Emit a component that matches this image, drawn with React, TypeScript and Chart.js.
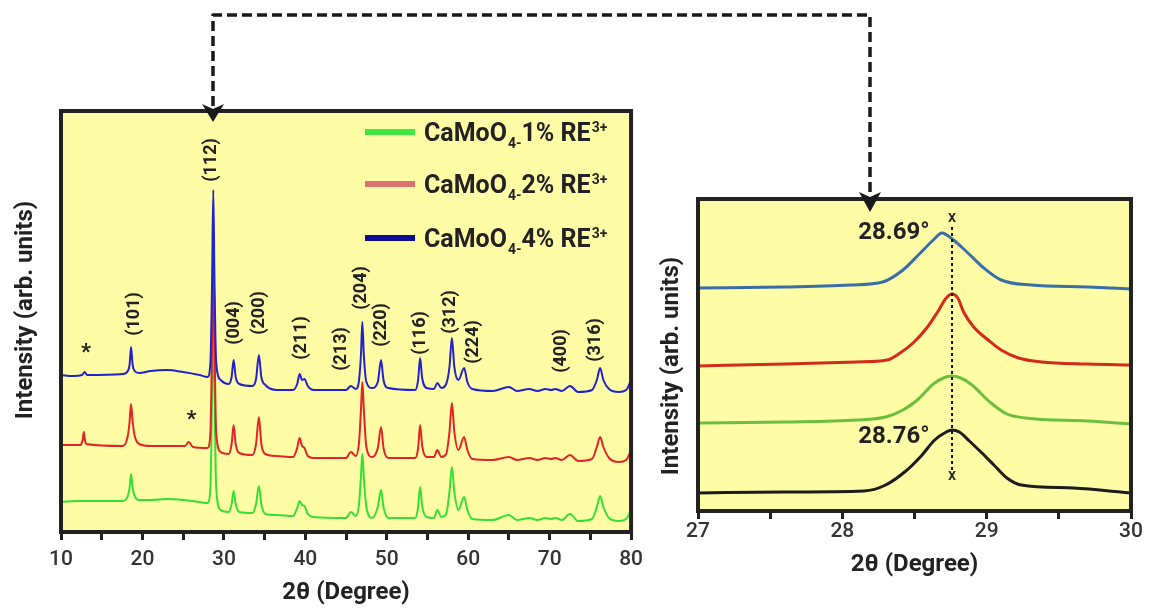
import React, { useEffect, useRef } from "react";
import { Chart, registerables } from "chart.js";

Chart.register(...registerables);

type P = [number, number];

// ---------- Left panel: full XRD patterns (2θ °, intensity in arb. units incl. vertical offset) ----------
const xrdBlue4: P[] = [
  [10, 157], [11.5, 156], [12.6, 157], [12.9, 160], [13.2, 157], [17.6, 158], [18.2, 161], [18.42, 167], [18.6, 185],
  [18.8, 167], [19.05, 161], [19.6, 159], [21, 161], [23, 162], [25, 160], [27, 157], [28.0, 155], [28.35, 170],
  [28.55, 250], [28.7, 342], [28.85, 250], [29.05, 170], [29.6, 152], [30.6, 148], [30.95, 155], [31.2, 172],
  [31.45, 155], [31.9, 148], [33.5, 146], [33.95, 153], [34.3, 177], [34.6, 155], [35.1, 147], [36.5, 142],
  [38.5, 142], [39.0, 148], [39.3, 158], [39.6, 152], [39.9, 153], [40.3, 146], [41, 142], [45, 142], [45.6, 146],
  [46.2, 143], [46.6, 152], [46.85, 180], [47.0, 210], [47.2, 175], [47.5, 150], [48.2, 144], [48.9, 150],
  [49.3, 172], [49.6, 152], [50.2, 144], [53.5, 142], [53.85, 152], [54.1, 174], [54.35, 154], [54.9, 144],
  [55.8, 143], [56.2, 149], [56.7, 144], [57.3, 148], [57.7, 165], [58.0, 194], [58.3, 165], [58.8, 152],
  [59.5, 164], [59.9, 150], [60.5, 143], [63, 141], [65, 145], [66, 141], [67.5, 143], [68.5, 141], [69.5, 143],
  [70.2, 142], [70.7, 143], [71.5, 141], [72.5, 146], [73.5, 140], [75.2, 142], [75.8, 152], [76.2, 164],
  [76.6, 152], [77.3, 143], [78.5, 140], [79.4, 142], [80, 152],
];

const xrdRed2: P[] = [
  [10, 87], [12.4, 87], [12.5, 88], [12.68, 93], [12.8, 100], [12.92, 93], [13.1, 88], [17.6, 86], [18.2, 96],
  [18.42, 110], [18.6, 128], [18.8, 110], [19.05, 96], [19.6, 88], [21, 86], [23, 86], [25.2, 86], [25.7, 90],
  [26.2, 85], [28.0, 84], [28.35, 100], [28.55, 190], [28.7, 274], [28.85, 190], [29.05, 100], [29.6, 80],
  [30.6, 78], [30.95, 88], [31.2, 107], [31.45, 88], [31.9, 79], [33.5, 77], [33.95, 88], [34.3, 115], [34.6, 88],
  [35.1, 78], [36.5, 76], [38.5, 75], [39.0, 84], [39.3, 94], [39.6, 86], [39.9, 84], [40.3, 76], [41, 74],
  [45, 74], [45.6, 80], [46.2, 76], [46.6, 90], [46.85, 125], [47.0, 150], [47.2, 120], [47.5, 85], [48.2, 75],
  [48.9, 84], [49.3, 105], [49.6, 84], [50.2, 74], [53.5, 74], [53.85, 84], [54.1, 107], [54.35, 86], [54.9, 75],
  [55.8, 75], [56.2, 82], [56.7, 75], [57.3, 78], [57.7, 100], [58.0, 129], [58.3, 100], [58.8, 82], [59.5, 95],
  [59.9, 82], [60.5, 73], [63, 72], [65, 75], [66, 72], [67.5, 74], [68.5, 72], [69.5, 74], [70.2, 73], [70.7, 74],
  [71.5, 72], [72.5, 77], [73.5, 71], [75.2, 73], [75.8, 85], [76.2, 95], [76.6, 85], [77.3, 74], [78.5, 70],
  [79.4, 72], [80, 82],
];

const xrdGreen1: P[] = [
  [10, 30], [12, 31], [17.6, 31], [18.2, 36], [18.42, 44], [18.6, 58], [18.8, 44], [19.05, 36], [19.6, 32],
  [21, 32], [23, 33], [25, 32], [27, 30], [28.0, 29], [28.35, 45], [28.55, 140], [28.7, 209], [28.85, 140],
  [29.05, 45], [29.6, 22], [30.6, 20], [30.95, 28], [31.2, 41], [31.45, 28], [31.9, 20], [33.5, 19], [33.95, 28],
  [34.3, 46], [34.6, 28], [35.1, 18], [36.5, 17], [38.5, 16], [39.0, 24], [39.3, 31], [39.6, 27], [39.9, 26],
  [40.3, 18], [41, 15], [45, 14], [45.6, 20], [46.2, 16], [46.6, 28], [46.85, 58], [47.0, 78], [47.2, 52],
  [47.5, 25], [48.2, 14], [48.9, 25], [49.3, 42], [49.6, 25], [50.2, 14], [53.5, 14], [53.85, 25], [54.1, 45],
  [54.35, 26], [54.9, 15], [55.8, 14], [56.2, 22], [56.7, 15], [57.3, 18], [57.7, 40], [58.0, 65], [58.3, 40],
  [58.8, 22], [59.5, 35], [59.9, 22], [60.5, 13], [63, 12], [65, 17], [66, 12], [67.5, 14], [68.5, 12], [69.5, 14],
  [70.2, 13], [70.7, 14], [71.5, 12], [72.5, 18], [73.5, 11], [75.2, 13], [75.8, 25], [76.2, 36], [76.6, 25],
  [77.3, 14], [78.5, 11], [79.4, 13], [80, 22],
];

const leftYMax = 421;
const leftTickLabels = [10, 20, 30, 40, 50, 60, 70, 80];

// Miller-index labels (position in data units: 2θ, intensity)
const hklText = ["(101)", "(112)", "(004)", "(200)", "(211)", "(213)", "(204)", "(220)", "(116)", "(312)", "(224)", "(400)", "(316)"];
const hklX = [19.06, 28.5, 31.3, 34.36, 39.5, 44.5, 46.96, 49.4, 54.2, 57.86, 60.67, 71.4, 75.6];
const hklY = [218, 372, 209, 219, 194, 183, 244, 207, 199, 220, 190, 181, 192];
const starX = [13.06, 26.03];
const starY = [184, 117];

// Legend
const legendPct = ["1%", "2%", "4%"];
const legendColors = ["#3ee83e", "#df7070", "#0c0c98"];

// ---------- Right panel: (112) zoom ----------
const zoomBlue: P[] = [
  [27, 223], [27.6, 224], [28.06, 226], [28.28, 229], [28.42, 241], [28.54, 258], [28.63, 271], [28.69, 278],
  [28.77, 271], [28.87, 258], [28.98, 243], [29.1, 231], [29.31, 226], [29.7, 224], [30, 222],
];
const zoomRed: P[] = [
  [27, 145], [27.6, 147], [28.1, 149], [28.31, 151], [28.4, 158], [28.49, 168], [28.59, 184], [28.66, 199],
  [28.72, 213], [28.76, 217], [28.8, 213], [28.84, 199], [28.91, 184], [29.01, 171], [29.1, 161], [29.22, 153],
  [29.38, 149], [29.7, 147], [30, 146],
];
const zoomGreen: P[] = [
  [27, 88], [27.6, 89], [28.1, 91], [28.3, 94], [28.42, 101], [28.52, 111], [28.63, 127], [28.7, 133], [28.76, 135],
  [28.82, 133], [28.89, 127], [29.03, 108], [29.14, 97], [29.27, 93], [29.7, 90], [30, 87],
];
const zoomBlack: P[] = [
  [27, 18], [27.6, 19], [28.15, 20], [28.3, 26], [28.44, 40], [28.54, 54], [28.64, 71], [28.72, 79], [28.76, 81],
  [28.81, 79], [28.88, 70], [28.96, 59], [29.05, 46], [29.14, 33], [29.24, 26], [29.6, 23], [30, 18],
];
const rightYMax = 312;
const rightTickLabels = [27, 28, 29, 30];
const peakRef = 28.76;
const peakLabels = ["28.69°", "28.76°"];
const peakLabelX = [28.11, 28.11];
const peakLabelY = [278, 74];
const refLineY = [41, 287];
const refMarkY = [35, 293];

const YELLOW = "#fffca6";
const FRAME = "#222222";
const TEXT = "#222222";
const FONT = "Roboto, 'Noto Sans', sans-serif";

const toXY = (d: P[]) => d.map(([x, y]) => ({ x, y }));

function drawFrameAndTitles(chart: any, yTitleX: number, yTitleY: number, xTitleY: number) {
  const { ctx, chartArea: a } = chart;
  ctx.save();
  ctx.strokeStyle = FRAME;
  ctx.lineWidth = 4;
  ctx.strokeRect(a.left, a.top, a.right - a.left, a.bottom - a.top);
  ctx.fillStyle = TEXT;
  ctx.font = `bold 24px ${FONT}`;
  ctx.textAlign = "center";
  ctx.textBaseline = "middle";
  ctx.fillText("2θ (Degree)", (a.left + a.right) / 2, xTitleY);
  ctx.translate(yTitleX, yTitleY);
  ctx.rotate(-Math.PI / 2);
  ctx.fillText("Intensity (arb. units)", 0, 0);
  ctx.restore();
}

const yellowBg = {
  id: "yellowBg",
  beforeDatasetsDraw(chart: any) {
    const { ctx, chartArea: a } = chart;
    ctx.save();
    ctx.fillStyle = YELLOW;
    ctx.fillRect(a.left, a.top, a.right - a.left, a.bottom - a.top);
    ctx.restore();
  },
};

const leftDeco = {
  id: "leftDeco",
  afterDraw(chart: any) {
    const { ctx, chartArea: a, scales } = chart;
    const x = scales.x;
    const y = scales.y;
    drawFrameAndTitles(chart, 26, 310, 593);
    ctx.save();
    ctx.fillStyle = TEXT;
    ctx.textAlign = "center";
    ctx.textBaseline = "middle";
    ctx.font = `bold 18px ${FONT}`;
    hklText.forEach((t, i) => {
      ctx.save();
      ctx.translate(x.getPixelForValue(hklX[i]), y.getPixelForValue(hklY[i]));
      ctx.rotate(-Math.PI / 2);
      ctx.fillText(t, 0, 0);
      ctx.restore();
    });
    ctx.font = `bold 22px ${FONT}`;
    starX.forEach((sx, i) => {
      ctx.fillText("*", x.getPixelForValue(sx), y.getPixelForValue(starY[i]) + 5);
    });
    // legend
    const rows = [132, 184, 238];
    legendPct.forEach((pct, i) => {
      const ry = rows[i];
      ctx.strokeStyle = legendColors[i];
      ctx.lineWidth = 6;
      ctx.beginPath();
      ctx.moveTo(a.left + 304, ry);
      ctx.lineTo(a.left + 354, ry);
      ctx.stroke();
      ctx.textAlign = "left";
      ctx.textBaseline = "alphabetic";
      ctx.fillStyle = TEXT;
      let cx = a.left + 363;
      const base = ry + 9;
      ctx.font = `bold 25px ${FONT}`;
      ctx.fillText("CaMoO", cx, base);
      cx += ctx.measureText("CaMoO").width + 1;
      ctx.font = `bold 14px ${FONT}`;
      ctx.fillText("4-", cx, base + 7);
      cx += ctx.measureText("4-").width;
      ctx.font = `bold 25px ${FONT}`;
      const t = `${pct} RE`;
      ctx.fillText(t, cx, base);
      cx += ctx.measureText(t).width + 1;
      ctx.font = `bold 14px ${FONT}`;
      ctx.fillText("3+", cx, base - 9);
    });
    ctx.restore();
  },
};

const rightDeco = {
  id: "rightDeco",
  afterDraw(chart: any) {
    const { ctx, scales } = chart;
    const x = scales.x;
    const y = scales.y;
    drawFrameAndTitles(chart, 22, 366, 565);
    ctx.save();
    const px = x.getPixelForValue(peakRef);
    ctx.strokeStyle = "#111";
    ctx.lineWidth = 2;
    ctx.setLineDash([3, 3]);
    ctx.beginPath();
    ctx.moveTo(px, y.getPixelForValue(refLineY[0]));
    ctx.lineTo(px, y.getPixelForValue(refLineY[1]));
    ctx.stroke();
    ctx.setLineDash([]);
    ctx.fillStyle = TEXT;
    ctx.textAlign = "center";
    ctx.textBaseline = "middle";
    ctx.font = `500 16px ${FONT}`;
    refMarkY.forEach((my) => ctx.fillText("x", px, y.getPixelForValue(my)));
    ctx.font = `bold 24px ${FONT}`;
    ctx.textAlign = "left";
    peakLabels.forEach((t, i) => {
      ctx.fillText(t, x.getPixelForValue(peakLabelX[i]), y.getPixelForValue(peakLabelY[i]));
    });
    ctx.restore();
  },
};

function xAxis(min: number, max: number, step: number, labels: number[], height: number, pad: number) {
  return {
    type: "linear" as const,
    min,
    max,
    afterFit: (s: any) => {
      s.height = height;
    },
    border: { display: false },
    grid: {
      drawOnChartArea: false,
      drawTicks: true,
      tickLength: 8,
      tickWidth: 3,
      tickColor: FRAME,
    },
    ticks: {
      stepSize: step,
      autoSkip: false,
      maxRotation: 0,
      padding: pad,
      color: "#333",
      font: { family: FONT, size: 21, weight: "500" as any },
      callback: (v: any) => (labels.includes(Number(v)) ? String(v) : ""),
    },
  };
}

export default function App() {
  const leftRef = useRef<HTMLCanvasElement>(null);
  const rightRef = useRef<HTMLCanvasElement>(null);

  useEffect(() => {
    const line = (data: P[], color: string, width: number, order: number) => ({
      data: toXY(data),
      borderColor: color,
      borderWidth: width,
      pointRadius: 0,
      fill: false,
      cubicInterpolationMode: "monotone" as const,
      order,
    });

    const left = new Chart(leftRef.current!, {
      type: "line",
      data: {
        datasets: [
          line(xrdBlue4, "#2222cc", 2, 0),
          line(xrdRed2, "#e3222a", 2, 1),
          line(xrdGreen1, "#33e033", 2, 2),
        ],
      },
      options: {
        responsive: false,
        animation: false,
        layout: { padding: { left: 61, right: 18, top: 111, bottom: 0 } },
        plugins: { legend: { display: false }, tooltip: { enabled: false } },
        scales: {
          x: xAxis(10, 80, 5, leftTickLabels, 80, 7),
          y: { display: false, min: 0, max: leftYMax },
        },
      },
      plugins: [yellowBg, leftDeco],
    });

    const right = new Chart(rightRef.current!, {
      type: "line",
      data: {
        datasets: [
          line(zoomBlue, "#3a6ea6", 3, 0),
          line(zoomRed, "#d22b1c", 3, 1),
          line(zoomGreen, "#6cbf3c", 3, 2),
          line(zoomBlack, "#1c1c1c", 3, 3),
        ],
      },
      options: {
        responsive: false,
        animation: false,
        layout: { padding: { left: 48, right: 22, top: 199, bottom: 0 } },
        plugins: { legend: { display: false }, tooltip: { enabled: false } },
        scales: {
          x: xAxis(27, 30, 0.5, rightTickLabels, 101, 0),
          y: { display: false, min: 0, max: rightYMax },
        },
      },
      plugins: [yellowBg, rightDeco],
    });

    return () => {
      left.destroy();
      right.destroy();
    };
  }, []);

  return (
    <div style={{ position: "fixed", left: 0, top: 0, width: 1153, height: 612, background: "#fff", overflow: "hidden" }}>
      <canvas ref={leftRef} width={650} height={612} style={{ position: "absolute", left: 0, top: 0 }} />
      <canvas ref={rightRef} width={503} height={612} style={{ position: "absolute", left: 650, top: 0 }} />
      <svg width={1153} height={612} style={{ position: "absolute", left: 0, top: 0, pointerEvents: "none" }}>
        <path
          d="M213 106 V15 H870 V194"
          fill="none"
          stroke="#1a1a1a"
          strokeWidth={3.5}
          strokeDasharray="10 5"
          strokeLinejoin="round"
        />
        <polygon points="202,104 213,109 224,104 213,122" fill="#1a1a1a" />
        <polygon points="859,192 870,197 881,192 870,212" fill="#1a1a1a" />
      </svg>
    </div>
  );
}
